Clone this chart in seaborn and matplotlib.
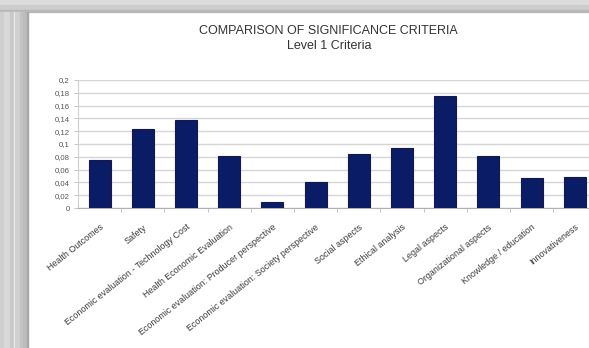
import matplotlib
matplotlib.use("Agg")
import matplotlib.pyplot as plt
from matplotlib.patches import Rectangle
from matplotlib.ticker import FixedLocator, FuncFormatter
import seaborn as sns
import pandas as pd

categories = [
    "Health Outcomes",
    "Safety",
    "Economic evaluation - Technology Cost",
    "Health Economic Evaluation",
    "Economic evaluation: Producer perspective",
    "Economic evaluation: Society perspective",
    "Social aspects",
    "Ethical analysis",
    "Legal aspects",
    "Organizational aspects",
    "Knowledge / education",
    "Innovativeness",
]
values = [0.075, 0.124, 0.138, 0.082, 0.010, 0.040, 0.084, 0.094, 0.175, 0.082, 0.047, 0.049]
y_ticks = [0, 0.02, 0.04, 0.06, 0.08, 0.10, 0.12, 0.14, 0.16, 0.18, 0.20]
title_line1 = "COMPARISON OF SIGNIFICANCE CRITERIA"
title_line2 = "Level 1 Criteria"

df = pd.DataFrame({"criterion": categories, "value": values})

sns.set_theme(style="white")
plt.rcParams["font.family"] = ["Liberation Sans", "DejaVu Sans"]

W, H = 589, 348
fig = plt.figure(figsize=(W / 100, H / 100), dpi=100)
fig.patch.set_facecolor("white")

def fx(px):
    return px / W

def fy(py):
    return 1 - py / H

# decorative grey frame (top and left), as in the screenshot
frame = [
    (0, 0, W, 5, "#dcdcdc"),
    (0, 5, W, 5, "#cdcdcd"),
    (0, 10, W, 2, "#b8b8b8"),
]
for x0, y0, w, h, c in frame:
    fig.patches.append(Rectangle((fx(x0), fy(y0 + h)), w / W, h / H,
                                 transform=fig.transFigure, color=c, zorder=0))
stripes = [
    (0, 4, "#cfcfcf"), (4, 10, "#d9d9d9"), (10, 14, "#c9c9c9"),
    (14, 15, "#eeeeee"), (15, 20, "#d1d1d1"), (20, 23, "#c3c3c3"),
    (23, 27, "#bcbcbc"), (27, 28, "#a8a8a8"),
]
for x0, x1, c in stripes:
    fig.patches.append(Rectangle((fx(x0), 0), (x1 - x0) / W, fy(12),
                                 transform=fig.transFigure, color=c, zorder=0))

# axes: left at 78 px, zero at 208 px, 0.2 at 80 px, 12 slots of 43.2 px
ax_left, ax_right = 78, 78 + 12 * 43.2
ax = fig.add_axes([fx(ax_left), fy(208), (ax_right - ax_left) / W, (208 - 80) / H])
ax.set_facecolor("none")

sns.barplot(data=df, x="criterion", y="value", color="#0b1c66", width=0.51,
            edgecolor="#14184a", linewidth=0.8, saturation=1, ax=ax, zorder=3)

ax.set_xlim(-0.5, len(categories) - 0.5)
ax.set_ylim(0, 0.2)
ax.set_xlabel("")
ax.set_ylabel("")

ax.yaxis.set_major_locator(FixedLocator(y_ticks))
ax.yaxis.set_major_formatter(FuncFormatter(lambda v, p: ("%g" % round(v, 2)).replace(".", ",")))
ax.grid(axis="y", color="#d6d6d6", linewidth=1.0, zorder=0)
ax.set_axisbelow(True)

for s in ["top", "right"]:
    ax.spines[s].set_visible(False)
ax.spines["left"].set_color("#cfcfcf")
ax.spines["left"].set_linewidth(0.8)
ax.spines["bottom"].set_color("#b0b0b0")
ax.spines["bottom"].set_linewidth(0.8)

ax.tick_params(axis="y", which="major", left=True, length=3, width=0.6, color="#bdbdbd",
               labelsize=5.6, labelcolor="#555555", pad=3)
ax.tick_params(axis="x", which="major", bottom=False, labelsize=6.4, labelcolor="#3a3a3a", pad=4.5)
ax.xaxis.set_minor_locator(FixedLocator([i + 0.5 for i in range(len(categories) - 1)]))
ax.tick_params(axis="x", which="minor", bottom=True, length=3, width=0.6, color="#bdbdbd")

for lbl in ax.get_xticklabels():
    lbl.set_rotation(38.5)
    lbl.set_ha("right")
    lbl.set_rotation_mode("anchor")

fig.text(fx(328), fy(31), title_line1, ha="center", va="center", fontsize=9, color="#333333")
fig.text(fx(329), fy(46), title_line2, ha="center", va="center", fontsize=9, color="#333333")

fig.savefig("out.png", dpi=100)
